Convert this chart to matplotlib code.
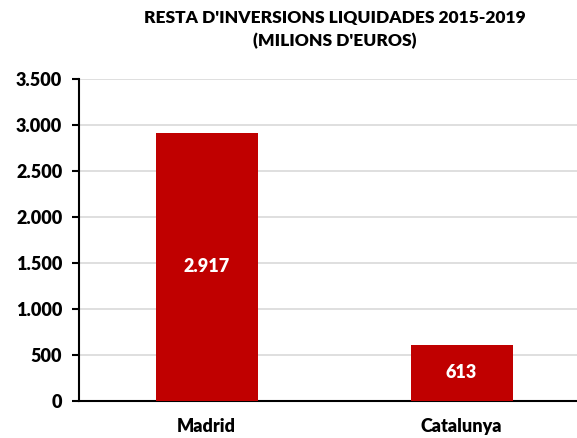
import matplotlib.pyplot as plt
from matplotlib.ticker import FuncFormatter

# === DADES ===
regions = ["Madrid", "Catalunya"]
valors = [2917, 613]
etiquetes = ["2.917", "613"]
titol = "RESTA D'INVERSIONS LIQUIDADES 2015-2019\n(MILIONS D'EUROS)"

plt.rcParams["font.family"] = ["Lato", "DejaVu Sans"]
plt.rcParams["font.weight"] = "heavy"

fig = plt.figure(figsize=(5.77, 4.38), dpi=100)
ax = fig.add_axes([79 / 577, 1 - 401 / 438, 510 / 577, 322 / 438])

x = range(len(regions))
bars = ax.bar(x, valors, width=0.4, color="#C00000", zorder=3)

for b, txt in zip(bars, etiquetes):
    ax.text(b.get_x() + b.get_width() / 2, b.get_height() / 2, txt,
            ha="center", va="center", color="white", fontsize=13, fontweight="heavy", zorder=4)

ax.set_xlim(-0.5, 1.5)
ax.set_ylim(0, 3500)
ax.set_yticks(range(0, 3501, 500))
ax.yaxis.set_major_formatter(FuncFormatter(lambda v, p: f"{int(v):,}".replace(",", ".")))
ax.set_xticks(list(x))
ax.set_xticklabels(regions)
ax.tick_params(axis="x", length=0, pad=12, labelsize=13)
ax.tick_params(axis="y", length=5, width=1.5, pad=7, labelsize=13)
ax.grid(axis="y", color="#D9D9D9", linewidth=1.2, zorder=0)

for s in ["top", "right"]:
    ax.spines[s].set_visible(False)
ax.spines["left"].set_linewidth(1.5)
ax.spines["bottom"].set_linewidth(1.5)

fig.text(0.58, 1 - 30 / 438, titol, ha="center", va="center", fontsize=12.5,
         fontweight="heavy", linespacing=1.5)

plt.savefig("out.png", dpi=100)
